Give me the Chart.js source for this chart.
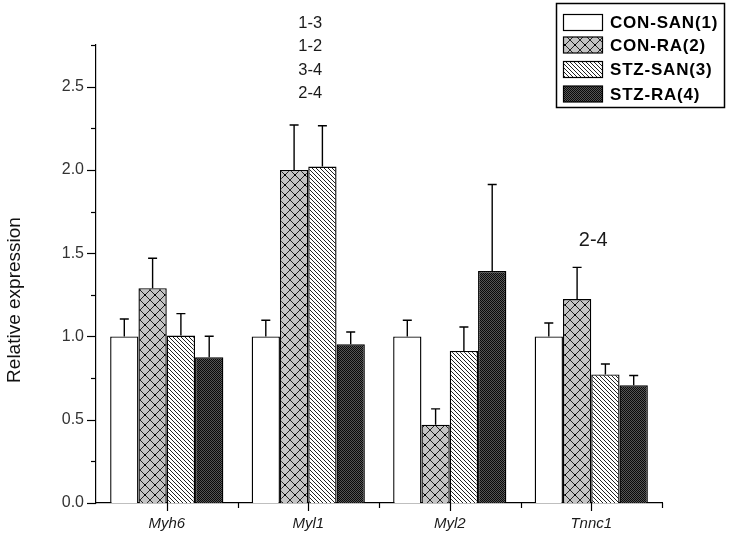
<!DOCTYPE html>
<html>
<head>
<meta charset="utf-8">
<script src="https://cdn.jsdelivr.net/npm/chart.js@4.4.1/dist/chart.umd.min.js"></script>
<style>
html,body{margin:0;padding:0;background:#fff;}
#wrap{width:732px;height:537px;position:relative;}
</style>
</head>
<body>
<div id="wrap"><canvas id="c" width="732" height="537"></canvas></div>
<script>
// ---- Data ----
const categories = ['Myh6', 'Myl1', 'Myl2', 'Tnnc1'];
const seriesNames = ['CON-SAN(1)', 'CON-RA(2)', 'STZ-SAN(3)', 'STZ-RA(4)'];
const conSan    = [1.00, 1.00, 1.00, 1.00];
const conSanErr = [0.105, 0.097, 0.097, 0.081];
const conRa     = [1.29, 2.00, 0.47, 1.225];
const conRaErr  = [0.18, 0.27, 0.095, 0.19];
const stzSan    = [1.005, 2.02, 0.913, 0.772];
const stzSanErr = [0.132, 0.245, 0.144, 0.063];
const stzRa     = [0.875, 0.953, 1.393, 0.707];
const stzRaErr  = [0.126, 0.074, 0.519, 0.059];
const yTicks = [0.0, 0.5, 1.0, 1.5, 2.0, 2.5];
const annotations = [
  {category: 'Myl1', lines: ['1-3', '1-2', '3-4', '2-4']},
  {category: 'Tnnc1', lines: ['2-4']}
];

// ---- Patterns ----
function makePattern(w, h, draw) {
  const c = document.createElement('canvas');
  c.width = w; c.height = h;
  const g = c.getContext('2d');
  draw(g, w, h);
  return document.getElementById('c').getContext('2d').createPattern(c, 'repeat');
}
const patWhite = '#ffffff';
const patCross = makePattern(10, 10, (g, w, h) => {
  g.fillStyle = '#c4c4c4'; g.fillRect(0, 0, w, h);
  g.strokeStyle = '#111'; g.lineWidth = 0.9;
  g.beginPath();
  g.moveTo(0, 0); g.lineTo(w, h);
  g.moveTo(w, 0); g.lineTo(0, h);
  g.stroke();
  g.fillStyle = '#000';
  g.fillRect(4, 4, 2, 2);
});
const patDiag = makePattern(4, 4, (g, w, h) => {
  g.fillStyle = '#fff'; g.fillRect(0, 0, w, h);
  g.strokeStyle = '#222'; g.lineWidth = 1;
  g.beginPath();
  g.moveTo(-1, -1); g.lineTo(w + 1, h + 1);
  g.moveTo(-1, h - 1); g.lineTo(1, h + 1);
  g.moveTo(w - 1, -1); g.lineTo(w + 1, 1);
  g.stroke();
});
const patDark = makePattern(2, 2, (g) => {
  g.fillStyle = '#555'; g.fillRect(0, 0, 2, 2);
  g.fillStyle = '#0a0a0a'; g.fillRect(0, 0, 1, 1); g.fillRect(1, 1, 1, 1);
});

const fills = [patWhite, patCross, patDiag, patDark];
const values = [conSan, conRa, stzSan, stzRa];
const errs = [conSanErr, conRaErr, stzSanErr, stzRaErr];

const datasets = seriesNames.map((name, i) => ({
  label: name,
  data: values[i],
  errors: errs[i],
  backgroundColor: fills[i],
  borderColor: '#000',
  borderWidth: 1.4,
  borderSkipped: 'bottom',
  categoryPercentage: 0.8,
  barPercentage: 1.0
}));

const FONT = '"Liberation Sans", Arial, sans-serif';

// ---- Plugins ----
const decor = {
  id: 'decor',
  afterDatasetsDraw(chart) {
    const ctx = chart.ctx;
    const y = chart.scales.y;
    ctx.save();
    ctx.strokeStyle = '#000';
    ctx.lineWidth = 1.4;
    chart.data.datasets.forEach((ds, di) => {
      const meta = chart.getDatasetMeta(di);
      meta.data.forEach((bar, k) => {
        const top = y.getPixelForValue(ds.data[k] + ds.errors[k]);
        const base = y.getPixelForValue(ds.data[k]);
        ctx.beginPath();
        ctx.moveTo(bar.x, base); ctx.lineTo(bar.x, top);
        ctx.moveTo(bar.x - 4.5, top); ctx.lineTo(bar.x + 4.5, top);
        ctx.stroke();
      });
    });
    ctx.restore();
  },
  afterDraw(chart) {
    const ctx = chart.ctx;
    const y = chart.scales.y, x = chart.scales.x;
    const area = chart.chartArea;
    ctx.save();
    ctx.strokeStyle = '#000';
    ctx.lineWidth = 1.2;
    for (let v = 0; v <= 2.75 + 1e-9; v += 0.25) {
      const py = Math.round(y.getPixelForValue(v)) + 0.5;
      const major = Math.abs(v * 2 - Math.round(v * 2)) < 1e-6;
      ctx.beginPath();
      ctx.moveTo(area.left - (major ? 9 : 5), py);
      ctx.lineTo(area.left, py);
      ctx.stroke();
    }
    const n = categories.length;
    for (let i = 0; i < n; i++) {
      const px = Math.round(x.getPixelForValue(i)) + 0.5;
      ctx.beginPath();
      ctx.moveTo(px, area.bottom); ctx.lineTo(px, area.bottom + 8);
      ctx.stroke();
    }
    for (let i = 1; i <= n; i++) {
      const px = i === n ? Math.round(area.right) + 0.5
        : Math.round((x.getPixelForValue(i - 1) + x.getPixelForValue(i)) / 2) + 0.5;
      ctx.beginPath();
      ctx.moveTo(px, area.bottom); ctx.lineTo(px, area.bottom + 5);
      ctx.stroke();
    }
    // y title
    ctx.fillStyle = '#111';
    ctx.font = '19px ' + FONT;
    ctx.textAlign = 'center';
    ctx.textBaseline = 'middle';
    ctx.translate(15, 300);
    ctx.rotate(-Math.PI / 2);
    ctx.fillText('Relative expression', 0, 0);
    ctx.restore();

    // annotations
    ctx.save();
    ctx.fillStyle = '#1a1a1a';
    ctx.textAlign = 'center';
    ctx.textBaseline = 'middle';
    annotations.forEach(a => {
      const idx = categories.indexOf(a.category);
      const px = x.getPixelForValue(idx);
      if (a.lines.length > 1) {
        ctx.font = '16.5px ' + FONT;
        a.lines.forEach((t, j) => ctx.fillText(t, px + 2, 23.5 + j * 23.4));
      } else {
        ctx.font = '20px ' + FONT;
        ctx.fillText(a.lines[0], px + 2, 240);
      }
    });
    ctx.restore();

    // legend box
    ctx.save();
    ctx.strokeStyle = '#000';
    ctx.lineWidth = 1.5;
    ctx.strokeRect(556.5, 3.5, 168, 104);
    const rows = [22.5, 45, 69.5, 94];
    ctx.font = 'bold 17px ' + FONT;
    if ('letterSpacing' in ctx) ctx.letterSpacing = '0.8px';
    ctx.textAlign = 'left';
    ctx.textBaseline = 'middle';
    chart.data.datasets.forEach((ds, i) => {
      const cy = rows[i];
      ctx.fillStyle = ds.backgroundColor;
      ctx.fillRect(563.5, cy - 8, 39, 16);
      ctx.lineWidth = 1.2;
      ctx.strokeRect(563.5, cy - 8, 39, 16);
      ctx.fillStyle = '#000';
      ctx.fillText(ds.label, 610, cy + 1);
    });
    ctx.restore();
  }
};

new Chart(document.getElementById('c'), {
  type: 'bar',
  data: { labels: categories, datasets },
  options: {
    responsive: false,
    animation: false,
    layout: { padding: { left: 0, right: 70, top: 45, bottom: 0 } },
    plugins: { legend: { display: false }, tooltip: { enabled: false } },
    scales: {
      x: {
        grid: { display: false, drawTicks: false },
        border: { display: true, color: '#000', width: 1.2 },
        ticks: {
          padding: 12,
          color: '#1a1a1a',
          font: { family: FONT, size: 15, style: 'italic' },
          maxRotation: 0
        },
        afterFit(s) { s.height = 34; }
      },
      y: {
        min: 0, max: 2.75,
        afterBuildTicks(s) { s.ticks = yTicks.map(v => ({ value: v })); },
        grid: { display: false, drawTicks: false },
        border: { display: true, color: '#000', width: 1.2 },
        ticks: {
          padding: 12,
          color: '#333',
          font: { family: FONT, size: 16 },
          callback: v => Number(v).toFixed(1)
        },
        afterFit(s) { s.width = 96; }
      }
    }
  },
  plugins: [decor]
});
</script>
</body>
</html>
